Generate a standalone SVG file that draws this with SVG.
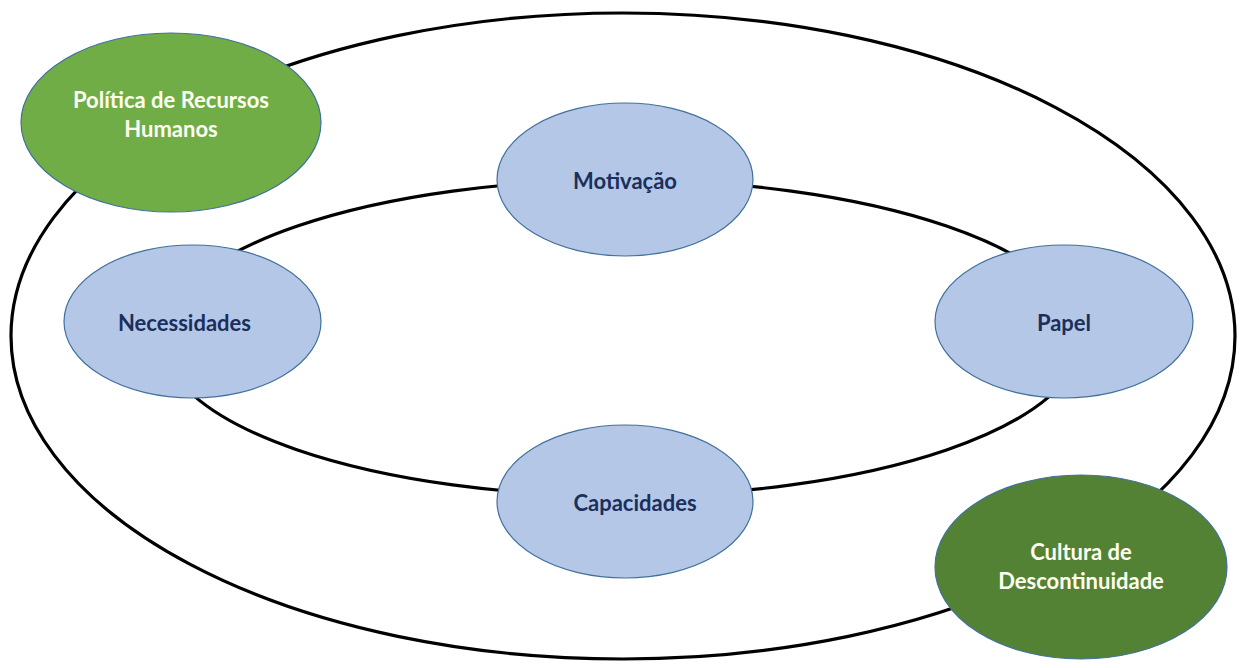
<svg xmlns="http://www.w3.org/2000/svg" width="1245" height="668" viewBox="0 0 1245 668">
<style>
.ring{fill:none;stroke:#000;stroke-width:3.2}
.blue{fill:#B4C7E7;stroke:#41719C;stroke-width:1.2}
.g1{fill:#70AD47;stroke:#41719C;stroke-width:1.2}
.g2{fill:#548235;stroke:#41719C;stroke-width:1.2}
.t{font-family:Lato,"Liberation Sans",sans-serif;font-weight:bold;font-size:22px;text-anchor:middle}
.tb{fill:#1B2F5C}
.tw{fill:#FFFFF0}
</style>
<rect width="1245" height="668" fill="#fff"/>
<g id="connectors">
<ellipse class="ring" cx="623" cy="336" rx="612" ry="323"/>
<ellipse class="ring" cx="622" cy="338" rx="460" ry="158"/>
</g>
<g id="politica">
<ellipse class="g1" cx="171" cy="122.5" rx="150" ry="89.5"/>
<text class="t tw" x="171" y="108">Política de Recursos</text>
<text class="t tw" x="171" y="137">Humanos</text>
</g>
<g id="motivacao">
<ellipse class="blue" cx="625" cy="179.5" rx="128" ry="76.5"/>
<text class="t tb" x="625" y="189">Motivação</text>
</g>
<g id="necessidades">
<ellipse class="blue" cx="192.5" cy="321.5" rx="128.5" ry="76.5"/>
<text class="t tb" x="184.5" y="331">Necessidades</text>
</g>
<g id="papel">
<ellipse class="blue" cx="1064" cy="321.5" rx="129" ry="76.5"/>
<text class="t tb" x="1064" y="331">Papel</text>
</g>
<g id="capacidades">
<ellipse class="blue" cx="625" cy="501.5" rx="128" ry="76.5"/>
<text class="t tb" x="635" y="511">Capacidades</text>
</g>
<g id="cultura">
<ellipse class="g2" cx="1081" cy="567" rx="146" ry="92"/>
<text class="t tw" x="1081" y="560">Cultura de</text>
<text class="t tw" x="1081" y="589">Descontinuidade</text>
</g>
</svg>
